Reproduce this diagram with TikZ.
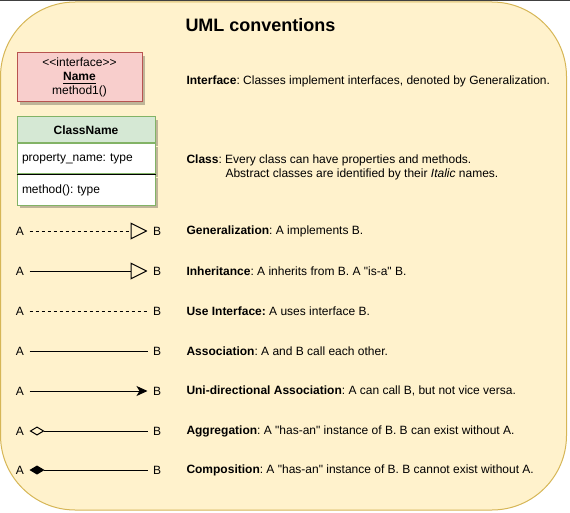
\documentclass[tikz,border=0pt]{standalone}
\usepackage{fontspec}
\setmainfont{Liberation Sans}[Ligatures=TeXOff]
\usetikzlibrary{arrows.meta, positioning, shadows}
\frenchspacing

\definecolor{noteFill}{HTML}{FFF2CC}
\definecolor{noteLine}{HTML}{D6B656}
\definecolor{ifaceFill}{HTML}{F8CECC}
\definecolor{ifaceLine}{HTML}{B85450}
\definecolor{classFill}{HTML}{D5E8D4}
\definecolor{classLine}{HTML}{82B366}

\tikzset{
  txt/.style={font=\fontsize{9}{10.5}\selectfont},
  boxshadow/.style={drop shadow={shadow xshift=2.25pt, shadow yshift=-2.25pt, fill=black, opacity=0.25}},
  ifacebox/.style={txt, draw=ifaceLine, fill=ifaceFill, boxshadow, align=center,
    minimum width=93.75pt, minimum height=36.75pt, inner sep=0pt},
  classhead/.style={txt, draw=classLine, fill=classFill, boxshadow, font=\fontsize{9}{10.5}\selectfont\bfseries,
    minimum width=103.5pt, minimum height=19.5pt, inner sep=0pt},
  classrow/.style={txt, draw=classLine, fill=white, boxshadow, align=left,
    text width=96pt, minimum width=103.5pt, minimum height=22.5pt, inner xsep=3.75pt, inner ysep=0pt},
  endlabel/.style={txt, inner xsep=3.75pt, inner ysep=2pt},
  desc/.style={txt, anchor=west, inner sep=0pt, align=left},
  dashline/.style={dash pattern=on 2.25pt off 2.25pt},
  opentri/.style={-{Triangle[open, length=12.75pt, width=12.75pt]}},
}

\begin{document}
\begin{tikzpicture}[x=0.75pt, y=-0.75pt, line width=0.75pt]

% Fix the canvas
\useasboundingbox (0,0) rectangle (570,513);

% Define columns
\def\ax{20}
\def\bx{157}
\def\tx{186}

% Top rule of the frame
\fill[black!75] (0,0) rectangle (570,1.3);

% Draw the note background
\draw[draw=noteLine, fill=noteFill, rounded corners=56pt] (0.5,2) rectangle (566.5,510);

% Title
\node[font=\fontsize{13.5}{16}\selectfont\bfseries] (title) at (260.5,25) {UML conventions};

% Interface box
\node[ifacebox] (iface) at (79.5,77.5)
  {<\kern0pt<interface>\kern0pt>\\[0.5pt] \underline{\textbf{Name}}\\ method1()};
\node[desc] (ifacetxt) at (\tx,81)
  {\textbf{Interface}: Classes implement interfaces, denoted by Generalization.};

% Class box
\node[classhead] (cls) at (86,130) {ClassName};
\node[classrow, below=0pt of cls] (prop) {property\_name: type};
\node[classrow, below=0pt of prop] (meth) {method(): type};
\draw (prop.south west) -- (prop.south east);
\node[desc] (clstxt) at (\tx,167.5)
  {\textbf{Class}: Every class can have properties and methods.\\
   \hspace*{29.25pt}Abstract classes are identified by their \textit{Italic} names.};

% Generalization
\node[endlabel] (a1) at (\ax,231) {A};
\node[endlabel] (b1) at (\bx,231) {B};
\draw[dashline, opentri] (a1) -- (b1);
\node[desc] (t1) at (\tx,231) {\textbf{Generalization}: A implements B.};

% Inheritance
\node[endlabel] (a2) at (\ax,271) {A};
\node[endlabel] (b2) at (\bx,271) {B};
\draw[opentri] (a2) -- (b2);
\node[desc] (t2) at (\tx,271) {\textbf{Inheritance}: A inherits from B. A "is-a" B.};

% Use interface
\node[endlabel] (a3) at (\ax,311) {A};
\node[endlabel] (b3) at (\bx,311) {B};
\draw[dashline] (a3) -- (b3);
\node[desc] (t3) at (\tx,311) {\textbf{Use Interface:} A uses interface B.};

% Association
\node[endlabel] (a4) at (\ax,351) {A};
\node[endlabel] (b4) at (\bx,351) {B};
\draw (a4) -- (b4);
\node[desc] (t4) at (\tx,351) {\textbf{Association}: A and B call each other.};

% Uni-directional association
\node[endlabel] (a5) at (\ax,391) {A};
\node[endlabel] (b5) at (\bx,391) {B};
\draw[-{Stealth[length=8.25pt, width=7.5pt, inset=2.25pt]}] (a5) -- (b5);
\node[desc] (t5) at (\tx,391) {\textbf{Uni-directional Association}: A can call B, but not vice versa.};

% Aggregation
\node[endlabel] (a6) at (\ax,431) {A};
\node[endlabel] (b6) at (\bx,431) {B};
\draw[{Diamond[open, length=11.25pt, width=6.75pt]}-] (a6) -- (b6);
\node[desc] (t6) at (\tx,431) {\textbf{Aggregation}: A "has-an" instance of B. B can exist without A.};

% Composition
\node[endlabel] (a7) at (\ax,470) {A};
\node[endlabel] (b7) at (\bx,470) {B};
\draw[{Diamond[length=11.25pt, width=6.75pt]}-] (a7) -- (b7);
\node[desc] (t7) at (\tx,470) {\textbf{Composition}: A "has-an" instance of B. B cannot exist without A.};

\end{tikzpicture}
\end{document}
